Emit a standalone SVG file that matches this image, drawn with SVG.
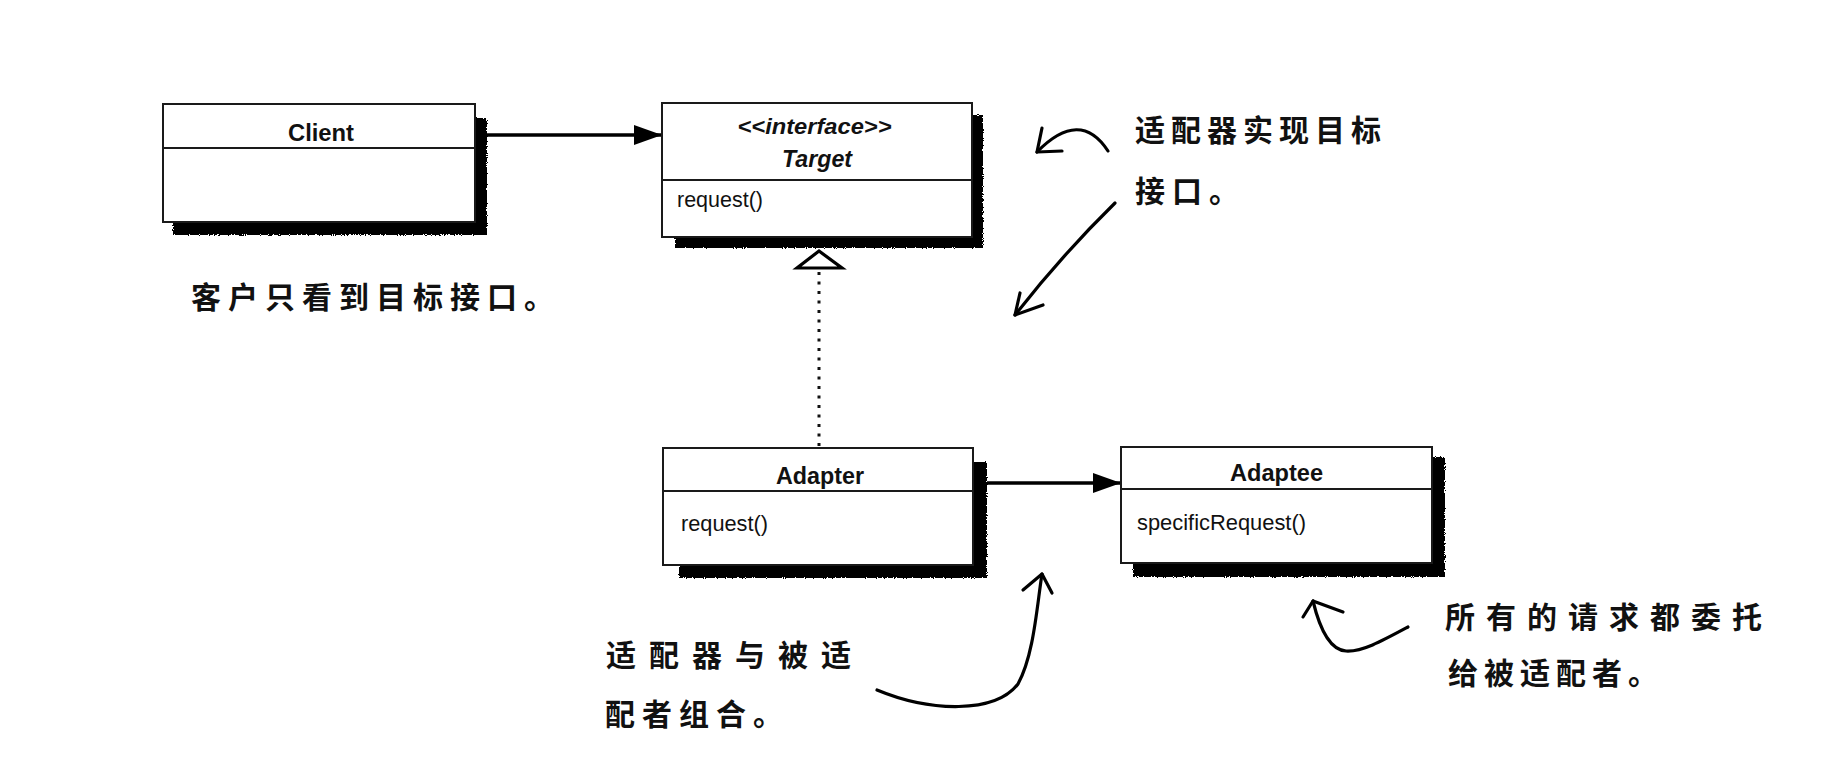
<svg xmlns="http://www.w3.org/2000/svg" width="1836" height="758" viewBox="0 0 1836 758">
<style>
.box{fill:#fff;stroke:#1a1a1a;stroke-width:2}
.div{stroke:#1a1a1a;stroke-width:2}
.shadow{fill:#000;filter:url(#rough)}
.title{font-family:"Liberation Sans",Arial,sans-serif;font-weight:bold;font-size:24px;fill:#111;text-anchor:middle}
.ital{font-style:italic}
.op{font-family:"Liberation Sans",Arial,sans-serif;font-size:22px;fill:#111}
.conn{stroke:#000;stroke-width:3.5;fill:none}
.hand{stroke:#000;stroke-width:3.2;fill:none;stroke-linecap:round;stroke-linejoin:round}
.note{font-family:"Noto Sans CJK SC","Noto Sans CJK JP",sans-serif;font-weight:bold;font-size:30px;fill:#111}
</style>
<defs>
<filter id="rough" x="-5%" y="-5%" width="110%" height="110%">
<feTurbulence type="fractalNoise" baseFrequency="0.9" numOctaves="1" seed="3" result="n"/>
<feDisplacementMap in="SourceGraphic" in2="n" scale="4"/>
</filter>
<marker id="filled" markerUnits="userSpaceOnUse" markerWidth="28" markerHeight="20" refX="28" refY="10" orient="auto">
<path d="M0,0 L28,10 L0,20 z" fill="#000"/>
</marker>
</defs>
<rect width="1836" height="758" fill="#fff"/>

<g id="connectors">
<line class="conn" x1="486" y1="135" x2="662" y2="135" marker-end="url(#filled)"/>
<line class="conn" x1="987" y1="483" x2="1121" y2="483" marker-end="url(#filled)"/>
<line x1="819" y1="272" x2="819" y2="447" stroke="#111" stroke-width="3" stroke-dasharray="3,6.5"/>
<path d="M819,251 L797,268 L842,268 z" fill="#fff" stroke="#000" stroke-width="3.2" stroke-linejoin="miter"/>
</g>

<g id="client">
<rect class="shadow" x="173" y="118" width="314" height="117"/>
<rect class="box" x="163" y="104" width="312" height="118"/>
<line class="div" x1="163" y1="148" x2="475" y2="148"/>
<text class="title" x="321" y="141" textLength="66" lengthAdjust="spacingAndGlyphs">Client</text>
</g>

<g id="target">
<rect class="shadow" x="675" y="115" width="308" height="133"/>
<rect class="box" x="662" y="103" width="310" height="134"/>
<line class="div" x1="662" y1="180" x2="972" y2="180"/>
<text class="title ital" x="814.5" y="134" style="font-size:22px" textLength="154" lengthAdjust="spacingAndGlyphs">&lt;&lt;interface&gt;&gt;</text>
<text class="title ital" x="817" y="166.5" textLength="70" lengthAdjust="spacingAndGlyphs">Target</text>
<text class="op" x="677" y="207" textLength="86" lengthAdjust="spacingAndGlyphs">request()</text>
</g>

<g id="adapter">
<rect class="shadow" x="679" y="462" width="308" height="116"/>
<rect class="box" x="663" y="448" width="310" height="117"/>
<line class="div" x1="663" y1="491" x2="973" y2="491"/>
<text class="title" x="820" y="484" textLength="88" lengthAdjust="spacingAndGlyphs">Adapter</text>
<text class="op" x="681" y="530.5" textLength="87" lengthAdjust="spacingAndGlyphs">request()</text>
</g>

<g id="adaptee">
<rect class="shadow" x="1133" y="457" width="312" height="120"/>
<rect class="box" x="1121" y="447" width="311" height="116"/>
<line class="div" x1="1121" y1="489" x2="1432" y2="489"/>
<text class="title" x="1276.5" y="481" textLength="93" lengthAdjust="spacingAndGlyphs">Adaptee</text>
<text class="op" x="1137" y="529.5" textLength="169" lengthAdjust="spacingAndGlyphs">specificRequest()</text>
</g>

<g id="note-client">
<text class="note" x="191" y="308" letter-spacing="7">客户只看到目标接口。</text>
</g>

<g id="note-target">
<text class="note" x="1135" y="141" letter-spacing="6">适配器实现目标</text>
<text class="note" x="1135" y="202" letter-spacing="7">接口。</text>
<path class="hand" d="M1108,151 Q1080,108 1037,152"/>
<path class="hand" d="M1042,128 L1037,152 L1062,151"/>
<path class="hand" d="M1115,203 Q1062,255 1015,315"/>
<path class="hand" d="M1020,293 L1015,315 L1043,305"/>
</g>

<g id="note-adapter">
<text class="note" x="606" y="666" letter-spacing="13">适配器与被适</text>
<text class="note" x="605" y="725" letter-spacing="7">配者组合。</text>
<path class="hand" d="M877,690 C930,712 995,714 1018,684 C1034,655 1037,605 1042,574"/>
<path class="hand" d="M1023,590 L1042,574 L1052,593"/>
</g>

<g id="note-adaptee">
<text class="note" x="1445" y="628" letter-spacing="11">所有的请求都委托</text>
<text class="note" x="1448" y="684" letter-spacing="6">给被适配者。</text>
<path class="hand" d="M1408,627 C1382,641 1362,652 1346,651 C1330,650 1320,630 1313,601"/>
<path class="hand" d="M1303,617 L1313,601 L1343,612"/>
</g>
</svg>
